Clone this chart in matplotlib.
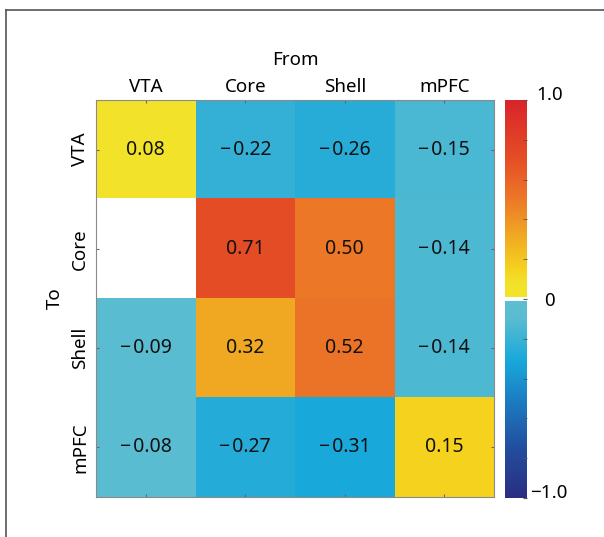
import numpy as np
import matplotlib.pyplot as plt
from matplotlib.colors import LinearSegmentedColormap
from matplotlib.lines import Line2D
from matplotlib.ticker import MultipleLocator

plt.rcParams['font.family'] = ['Noto Sans', 'DejaVu Sans']

regions = ["VTA", "Core", "Shell", "mPFC"]
# rows = "To", columns = "From"; Core <- VTA is blank
row_vta = [0.08, -0.22, -0.26, -0.15]
row_core = [np.nan, 0.71, 0.50, -0.14]
row_shell = [-0.09, 0.32, 0.52, -0.14]
row_mpfc = [-0.08, -0.27, -0.31, 0.15]
cbar_ticks = [-1.0, 0.0, 1.0]
cbar_labels = ["\u22121.0", "0", "1.0"]

values = np.array([row_vta, row_core, row_shell, row_mpfc])

# blue -> cyan | white | yellow -> orange -> red
cmap = LinearSegmentedColormap.from_list("conn", [
    (0.0, "#2a2d80"),
    (0.13, "#224fa0"),
    (0.25, "#1b7fc3"),
    (0.345, "#18a8da"),
    (0.45, "#5abcd1"),
    (0.495, "#5ebed0"),
    (0.4965, "#ffffff"),
    (0.5035, "#ffffff"),
    (0.505, "#f2e42a"),
    (0.54, "#f2e22a"),
    (0.575, "#f5d21e"),
    (0.66, "#f0a823"),
    (0.755, "#ec7628"),
    (0.855, "#e54d25"),
    (1.0, "#d8242b"),
], N=1024)
cmap.set_bad("white")

fig = plt.figure(figsize=(6.04, 5.37), dpi=100)
ax = fig.add_axes([96 / 604, 1 - 497 / 537, 398 / 604, 397 / 537])
cax = fig.add_axes([505 / 604, 1 - 498 / 537, 22 / 604, 398 / 537])

im = ax.imshow(values, cmap=cmap, vmin=-1, vmax=1, aspect="auto",
               interpolation="nearest")

for i in range(values.shape[0]):
    for j in range(values.shape[1]):
        v = values[i, j]
        if np.isnan(v):
            continue
        txt = f"{v:.2f}" if v >= 0 else "\u2212\u200a" + f"{abs(v):.2f}"
        ax.text(j, i, txt, ha="center", va="center", fontsize=14, color="#111111")

ax.set_xticks(range(len(regions)))
ax.set_xticklabels(regions, fontsize=13.5)
ax.set_yticks(range(len(regions)))
ax.set_yticklabels(regions, fontsize=13.5, rotation=90, va="center")
ax.tick_params(direction="in", length=2, color="#666666", top=True, bottom=True,
               left=True, right=True, labeltop=True, labelbottom=False)
ax.tick_params(axis="x", pad=3)
ax.tick_params(axis="y", pad=5)
ax.xaxis.set_label_position("top")
ax.set_xlabel("From", fontsize=13.5, labelpad=9.5)
ax.set_ylabel("To", fontsize=13.5, labelpad=5.5)
for s in ax.spines.values():
    s.set_color("#8a8a8a")
    s.set_linewidth(0.8)

cbar = fig.colorbar(im, cax=cax)
cbar.outline.set_visible(False)
cbar.set_ticks(cbar_ticks)
cbar.set_ticklabels(cbar_labels)
cax.yaxis.set_minor_locator(MultipleLocator(0.2))
cax.tick_params(which="both", direction="in", length=3, color="#555555",
                labelsize=13.5, pad=16)
for lab in cax.get_yticklabels():
    lab.set_horizontalalignment("center")
    if lab.get_text() != "0":
        lab.set_verticalalignment("baseline")

# outer frame (top and left edges visible)
fig.add_artist(Line2D([5.5 / 604, 5.5 / 604], [0, 1 - 9.5 / 537],
                      transform=fig.transFigure, color="#555555", lw=1.2))
fig.add_artist(Line2D([5.5 / 604, 1], [1 - 9.5 / 537, 1 - 9.5 / 537],
                      transform=fig.transFigure, color="#555555", lw=1.2))

fig.savefig("out.png", dpi=100)
